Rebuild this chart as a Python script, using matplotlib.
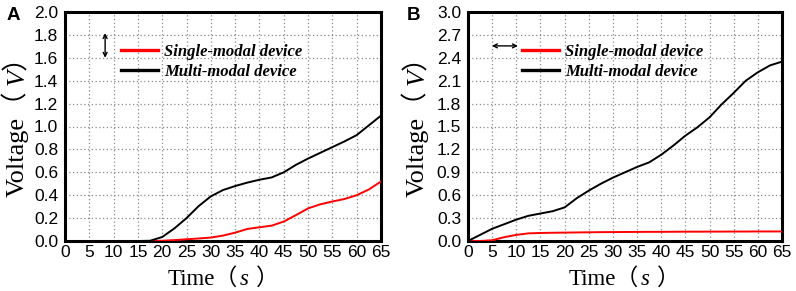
import matplotlib
matplotlib.use("Agg")
import matplotlib.pyplot as plt
import matplotlib.transforms as mtransforms
from matplotlib.lines import Line2D
from matplotlib.font_manager import FontProperties, findfont
from matplotlib.ft2font import FT2Font

# ---------------- data ----------------
time_s = [0, 2.5, 5, 7.5, 10, 12.5, 15, 17.5, 20, 22.5, 25, 27.5, 30, 32.5, 35,
          37.5, 40, 42.5, 45, 47.5, 50, 52.5, 55, 57.5, 60, 62.5, 65]

a_single = [0, 0, 0, 0, 0, 0, 0, 0, 0.002, 0.008, 0.015, 0.022, 0.03, 0.047, 0.073,
            0.105, 0.12, 0.134, 0.17, 0.226, 0.285, 0.32, 0.345, 0.367, 0.40, 0.45, 0.52]
a_multi = [0, 0, 0, 0, 0, 0, 0, 0.002, 0.035, 0.11, 0.20, 0.305, 0.39, 0.445, 0.48,
           0.51, 0.535, 0.555, 0.60, 0.665, 0.72, 0.77, 0.82, 0.87, 0.925, 1.01, 1.095]

b_single = [0, 0, 0.01, 0.05, 0.08, 0.10, 0.105, 0.108, 0.11, 0.112, 0.114, 0.116, 0.117,
            0.118, 0.119, 0.12, 0.12, 0.121, 0.122, 0.122, 0.123, 0.123, 0.124, 0.124,
            0.125, 0.125, 0.125]
b_multi = [0, 0.08, 0.16, 0.22, 0.28, 0.33, 0.36, 0.39, 0.44, 0.56, 0.66, 0.75, 0.83,
           0.90, 0.97, 1.03, 1.13, 1.25, 1.38, 1.49, 1.62, 1.79, 1.94, 2.10, 2.21, 2.30, 2.35]

x_ticks = [0, 5, 10, 15, 20, 25, 30, 35, 40, 45, 50, 55, 60, 65]
a_yticks = [0.0, 0.2, 0.4, 0.6, 0.8, 1.0, 1.2, 1.4, 1.6, 1.8, 2.0]
b_yticks = [0.0, 0.3, 0.6, 0.9, 1.2, 1.5, 1.8, 2.1, 2.4, 2.7, 3.0]
series_labels = ["Single-modal device", "Multi-modal device"]
series_colors = ["#ff0000", "#000000"]
panel_letters = ["A", "B"]
xlabel_parts = ["Time（", "s", "）"]
ylabel_parts = ["Voltage（", "V）"]

# ---------------- figure ----------------
W, H = 796, 291
DPI = 100
fig = plt.figure(figsize=(W / DPI, H / DPI), dpi=DPI)

ax_a = fig.add_axes([65 / W, 1 - 241 / H, 316 / W, 229 / H])
ax_b = fig.add_axes([468 / W, 1 - 241 / H, 314 / W, 229 / H])

tick_font = dict(family="Liberation Sans", size=12.5)
leg_prop = FontProperties(family="Liberation Serif", style="italic", weight="bold", size=12)


def setup(ax, yt, ymax, single, multi, legend_x, arrow):
    ax.plot(time_s, single, color=series_colors[0], lw=1.4, zorder=3)
    ax.plot(time_s, multi, color=series_colors[1], lw=1.4, zorder=3)
    ax.set_xlim(0, 65)
    ax.set_ylim(0, ymax)
    ax.set_xticks(x_ticks)
    ax.set_xticklabels([str(v) for v in x_ticks], **tick_font)
    ax.set_yticks(yt)
    ax.set_yticklabels(["%.1f" % v for v in yt], **tick_font)
    ax.tick_params(axis="both", length=0)
    ax.tick_params(axis="x", pad=3)
    ax.tick_params(axis="y", pad=5)
    ax.grid(True, color="#8a8a8a", linestyle=(0, (1, 2)), lw=0.9)
    ax.set_axisbelow(True)
    for sp in ax.spines.values():
        sp.set_linewidth(2.2)
        sp.set_color("black")
    handles = [Line2D([], [], color=c, lw=2.4) for c in series_colors]
    ax.legend(handles, series_labels, prop=leg_prop, frameon=False,
              loc="upper left", bbox_to_anchor=(legend_x, 0.862),
              borderpad=0, borderaxespad=0, handlelength=2.2,
              handletextpad=0.4, labelspacing=0.28)
    (x0, y0), (x1, y1) = arrow
    ax.annotate("", xy=(x1, y1), xytext=(x0, y0), xycoords="axes fraction",
                arrowprops=dict(arrowstyle="<->", color="black", lw=1.0,
                                mutation_scale=7, shrinkA=0, shrinkB=0))


setup(ax_a, a_yticks, 2.0, a_single, a_multi, 0.177,
      ((0.127, 0.800), (0.127, 0.908)))
setup(ax_b, b_yticks, 3.0, b_single, b_multi, 0.172,
      ((0.076, 0.852), (0.159, 0.852)))

# panel letters
fig.text(7 / W, 1 - 20 / H, panel_letters[0], family="Liberation Sans",
         weight="bold", size=13.5, ha="left", va="baseline")
fig.text(407 / W, 1 - 20 / H, panel_letters[1], family="Liberation Sans",
         weight="bold", size=13.5, ha="left", va="baseline")

# ---------------- axis labels with mixed fonts ----------------
ident = mtransforms.IdentityTransform()
mixed = ["Liberation Serif", "Noto Sans CJK SC"]


def x_fonts(size):
    return [dict(family=mixed, size=size),
            dict(family="Liberation Serif", style="italic", size=size),
            dict(family="Noto Sans CJK SC", size=size)]


def y_fonts(size):
    return [dict(family=mixed, size=size),
            dict(family=mixed, style="italic", size=size)]


def left_bearing(s, kw):
    """pixel distance from the text origin to the ink of its first glyph"""
    prop = FontProperties(**kw)
    try:
        f = FT2Font(findfont(prop))
        f.set_size(prop.get_size_in_points(), DPI)
        g = f.load_char(ord(s[0]))
        return max(g.horiBearingX / 64.0, 0.0)
    except Exception:
        return 0.0


def place_x(start, base, offsets, size):
    for s, kw, off in zip(xlabel_parts, x_fonts(size), offsets):
        fig.text(start + off - left_bearing(s, kw), base, s, transform=ident,
                 ha="left", va="baseline", **kw)


def place_y(start, base, offsets, size):
    for s, kw, off in zip(ylabel_parts, y_fonts(size), offsets):
        fig.text(base, start + off, s, transform=ident,
                 rotation=90, rotation_mode="anchor", ha="left",
                 va="baseline", **kw)


# offsets (px) of each piece from the label start
x_off = [0, 72, 88.5]
y_off = [0, 112]

place_x(168, H - 285, x_off, 16.5)
place_x(569, H - 285, x_off, 16.5)
place_y(H - 197, 24, y_off, 19)
place_y(H - 197, 424, y_off, 19)

fig.savefig("out.png", dpi=DPI)
